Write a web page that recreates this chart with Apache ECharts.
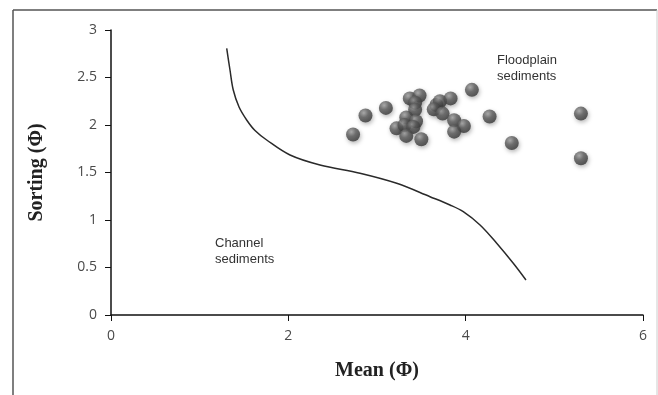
<!DOCTYPE html>
<html>
<head>
	<meta charset="utf-8">
	<title>Mean vs Sorting</title>
	<script type="text/javascript" src="https://cdn.jsdelivr.net/npm/echarts@6/dist/echarts.min.js"></script>
	<style type="text/css">
		html,body{margin:0;padding:0;background:#fff;}
		#chart{width:658px;height:395px;}
	</style>
</head>
<body>
<div id="chart"></div>
<script type="text/javascript">
	// sample points: mean (phi), sorting (phi)
	var meanVals = [2.73, 2.87, 3.10, 3.37, 3.48, 3.43, 3.43, 3.67, 3.71, 3.83, 4.07, 3.64, 3.74, 3.87, 3.98, 3.87,
		3.33, 3.44, 3.22, 3.31, 3.41, 3.33, 3.50, 4.27, 4.52, 5.30, 5.30];
	var sortingVals = [1.90, 2.10, 2.18, 2.28, 2.31, 2.235, 2.16, 2.21, 2.25, 2.28, 2.37, 2.165, 2.12, 2.05, 1.99, 1.93,
		2.08, 2.04, 1.965, 2.00, 1.98, 1.885, 1.85, 2.09, 1.81, 2.12, 1.65];
	// boundary curve
	var curveX = [1.305, 1.342, 1.379, 1.444, 1.530, 1.624, 1.756, 2.019, 2.357, 2.808, 3.222, 3.598, 3.823, 3.973, 4.162, 4.350, 4.537, 4.680];
	var curveY = [2.807, 2.579, 2.368, 2.189, 2.053, 1.942, 1.842, 1.684, 1.579, 1.492, 1.386, 1.245, 1.158, 1.087, 0.947, 0.755, 0.544, 0.368];

	var pts = meanVals.map(function(v,i){ return [v, sortingVals[i]]; });
	var curve = curveX.map(function(v,i){ return [v, curveY[i]]; });

	var tickFont = {color:'#4a4a4a', fontSize:14, fontFamily:'Open Sans'};
	var titleFont = {color:'#222', fontSize:20, fontWeight:'bold', fontFamily:'Liberation Serif'};

	var myChart = echarts.init(document.getElementById('chart'));
	var option = {
		animation:false,
		grid:{left:111, top:30, width:532, height:285},
		xAxis:{
			type:'value', min:0, max:6, interval:2,
			name:'Mean (Φ)', nameLocation:'middle', nameGap:46, nameTextStyle:titleFont,
			axisLine:{lineStyle:{color:'#111', width:1.5}},
			axisTick:{show:true, length:6, lineStyle:{color:'#111'}},
			axisLabel:Object.assign({margin:14}, tickFont),
			splitLine:{show:false}
		},
		yAxis:{
			type:'value', min:0, max:3, interval:0.5,
			name:'Sorting (Φ)', nameLocation:'middle', nameGap:64, nameTextStyle:titleFont,
			axisLine:{show:true, lineStyle:{color:'#111', width:1.5}},
			axisTick:{show:true, length:6, lineStyle:{color:'#111'}},
			axisLabel:Object.assign({margin:14}, tickFont),
			splitLine:{show:false}
		},
		graphic:[
			{type:'line', shape:{x1:13, y1:10, x2:657, y2:10}, style:{stroke:'#555', lineWidth:1.5}},
			{type:'line', shape:{x1:13, y1:10, x2:13, y2:395}, style:{stroke:'#555', lineWidth:1.5}},
			{type:'line', shape:{x1:657, y1:10, x2:657, y2:395}, style:{stroke:'#ccc', lineWidth:1}},
			{type:'text', left:497, top:52, style:{text:'Floodplain\nsediments', font:'13px "Liberation Sans"', fill:'#333', lineHeight:16}},
			{type:'text', left:215, top:235, style:{text:'Channel\nsediments', font:'13px "Liberation Sans"', fill:'#333', lineHeight:16}}
		],
		series:[
			{
				type:'line', data:curve, smooth:0.35, showSymbol:false, symbol:'none',
				lineStyle:{color:'#2a2a2a', width:1.5}, z:1
			},
			{
				type:'scatter', data:pts, symbolSize:14, z:2,
				itemStyle:{
					color:{type:'radial', x:0.38, y:0.32, r:0.7, colorStops:[
						{offset:0, color:'#a0a0a0'},
						{offset:0.45, color:'#5a5a5a'},
						{offset:1, color:'#353535'}
					]},
					shadowBlur:4, shadowColor:'rgba(0,0,0,0.35)', shadowOffsetX:1, shadowOffsetY:2
				}
			}
		]
	};
	myChart.setOption(option);
</script>
</body>
</html>
